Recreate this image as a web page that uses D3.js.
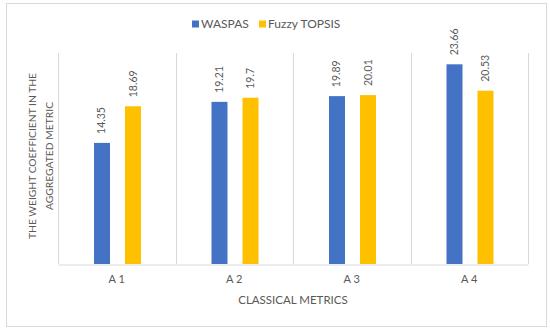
<!DOCTYPE html>
<html>
<head>
<meta charset="utf-8">
<script src="https://cdn.jsdelivr.net/npm/d3@7"></script>
<style>
  body { margin: 0; background: #fff; }
  text { font-family: Lato, "Open Sans", sans-serif; fill: #595959; }
</style>
</head>
<body>
<div id="chart"></div>
<script>
const categories = ['A 1', 'A 2', 'A 3', 'A 4']
const seriesNames = ['WASPAS', 'Fuzzy TOPSIS']
const waspas = [14.35, 19.21, 19.89, 23.66]
const fuzzyTopsis = [18.69, 19.7, 20.01, 20.53]
const valueLabels = [['14.35', '19.21', '19.89', '23.66'], ['18.69', '19.7', '20.01', '20.53']]

const colors = ['#4472C4', '#FFC000']
const width = 550, height = 332
const plot = { left: 58, right: 528, top: 53, bottom: 264 }

const svg = d3.select('#chart')
  .append('svg')
    .attr('width', width)
    .attr('height', height)

// outer frame
svg.append('rect')
  .attr('x', 6.5)
  .attr('y', 3.5)
  .attr('width', 540)
  .attr('height', 323)
  .style('fill', 'white')
  .style('stroke', '#d9d9d9')

const x = d3.scaleBand()
  .domain(categories)
  .range([plot.left, plot.right])

// two bars per category, 16px wide with a 15px gap
const x1 = d3.scaleBand()
  .domain(seriesNames)
  .range([36, 83])
  .paddingInner(0.484)

const y = d3.scaleLinear()
  .domain([0, 25])
  .range([plot.bottom, plot.top])

// vertical gridlines between categories
const bounds = categories.map(c => x(c)).concat([plot.right])
svg.append('g')
  .selectAll('line')
  .data(bounds)
  .join('line')
    .attr('x1', d => Math.round(d) + 0.5)
    .attr('x2', d => Math.round(d) + 0.5)
    .attr('y1', plot.top)
    .attr('y2', plot.bottom)
    .style('stroke', '#d9d9d9')

// category axis
const xAxis = svg.append('g')
  .attr('transform', `translate(0,${plot.bottom + 0.5})`)
  .call(d3.axisBottom(x).tickSize(0).tickPadding(11))
xAxis.select('.domain').style('stroke', '#d9d9d9')
xAxis.selectAll('text')
  .style('font-size', '11px')
  .style('fill', '#595959')
  .style('font-family', 'Lato, sans-serif')

const rows = categories.map((c, i) => ({ cat: c, values: [waspas[i], fuzzyTopsis[i]] }))

const groups = svg.append('g')
  .selectAll('g')
  .data(rows)
  .join('g')
    .attr('transform', d => `translate(${x(d.cat)},0)`)

groups.selectAll('rect')
  .data(d => d.values.map((v, s) => ({ v, s })))
  .join('rect')
    .attr('x', d => x1(seriesNames[d.s]))
    .attr('y', d => y(d.v))
    .attr('width', x1.bandwidth())
    .attr('height', d => y(0) - y(d.v))
    .style('fill', d => colors[d.s])

// rotated value labels
groups.selectAll('text.val')
  .data((d, i) => d.values.map((v, s) => ({ v, s, lab: valueLabels[s][i] })))
  .join('text')
    .attr('class', 'val')
    .attr('transform', d => `translate(${x1(seriesNames[d.s]) + x1.bandwidth() / 2 + 3.5},${y(d.v) - 9}) rotate(-90)`)
    .style('font-size', '10.5px')
    .text(d => d.lab)

// legend
const legend = svg.append('g')
  .attr('transform', 'translate(192,24)')
const legendX = [0, 67]
seriesNames.forEach((name, i) => {
  legend.append('rect')
    .attr('x', legendX[i])
    .attr('y', -3.5)
    .attr('width', 7)
    .attr('height', 7)
    .style('fill', colors[i])
  legend.append('text')
    .attr('x', legendX[i] + 9)
    .attr('dy', '0.35em')
    .style('font-size', '12px')
    .text(name)
})

// axis titles
svg.append('text')
  .attr('transform', 'translate(36,156) rotate(-90)')
  .attr('text-anchor', 'middle')
  .style('font-size', '10.3px')
  .text('THE WEIGHT COEFFICIENT IN THE')
svg.append('text')
  .attr('transform', 'translate(53,156) rotate(-90)')
  .attr('text-anchor', 'middle')
  .style('font-size', '10.3px')
  .text('AGGREGATED METRIC')

svg.append('text')
  .attr('x', 293)
  .attr('y', 304)
  .attr('text-anchor', 'middle')
  .style('font-size', '11.5px')
  .text('CLASSICAL METRICS')
</script>
</body>
</html>
